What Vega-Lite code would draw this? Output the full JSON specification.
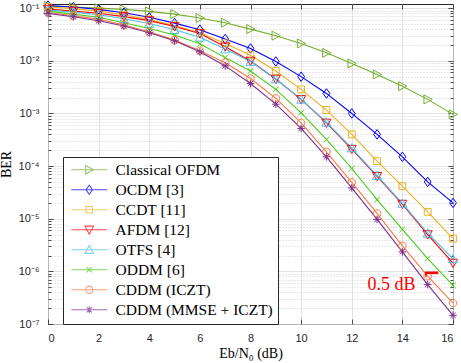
{
  "$schema": "https://vega.github.io/schema/vega-lite/v6.json",
  "width": 405,
  "height": 320,
  "autosize": {"type": "none"},
  "padding": {"left": 48, "top": 4, "right": 8, "bottom": 39},
  "background": "white",
  "config": {
    "view": {"stroke": "#262626", "strokeWidth": 1},
    "axis": {
      "labelFont": "Liberation Sans",
      "labelFontSize": 11,
      "labelColor": "#262626",
      "titleFont": "Liberation Serif",
      "titleFontWeight": "normal",
      "titleFontSize": 14,
      "titleColor": "#000000",
      "domain": false,
      "tickColor": "#262626",
      "tickWidth": 0.8
    },
    "legend": {
      "orient": "none",
      "legendX": 15,
      "legendY": 153,
      "strokeColor": "#262626",
      "fillColor": "white",
      "padding": 5,
      "labelFont": "Liberation Serif",
      "labelFontSize": 15.5,
      "labelColor": "#000000",
      "rowPadding": 3,
      "symbolSize": 81,
      "symbolStrokeWidth": 1.1,
      "symbolOffset": 13.5,
      "labelOffset": 18.5,
      "labelLimit": 0,
      "cornerRadius": 0
    }
  },
  "datasets": {
    "ber": [
      {"s": "Classical OFDM", "snr": 0, "ber": 0.11}, {"s": "Classical OFDM", "snr": 1, "ber": 0.105}, {"s": "Classical OFDM", "snr": 2, "ber": 0.1}, {"s": "Classical OFDM", "snr": 3, "ber": 0.095}, {"s": "Classical OFDM", "snr": 4, "ber": 0.087}, {"s": "Classical OFDM", "snr": 5, "ber": 0.077}, {"s": "Classical OFDM", "snr": 6, "ber": 0.065}, {"s": "Classical OFDM", "snr": 7, "ber": 0.053}, {"s": "Classical OFDM", "snr": 8, "ber": 0.04}, {"s": "Classical OFDM", "snr": 9, "ber": 0.03}, {"s": "Classical OFDM", "snr": 10, "ber": 0.0214}, {"s": "Classical OFDM", "snr": 11, "ber": 0.0142}, {"s": "Classical OFDM", "snr": 12, "ber": 0.0089}, {"s": "Classical OFDM", "snr": 13, "ber": 0.0055}, {"s": "Classical OFDM", "snr": 14, "ber": 0.0033}, {"s": "Classical OFDM", "snr": 15, "ber": 0.00185}, {"s": "Classical OFDM", "snr": 16, "ber": 0.00096},
      {"s": "OCDM [3]", "snr": 0, "ber": 0.112}, {"s": "OCDM [3]", "snr": 1, "ber": 0.105}, {"s": "OCDM [3]", "snr": 2, "ber": 0.095}, {"s": "OCDM [3]", "snr": 3, "ber": 0.082}, {"s": "OCDM [3]", "snr": 4, "ber": 0.067}, {"s": "OCDM [3]", "snr": 5, "ber": 0.052}, {"s": "OCDM [3]", "snr": 6, "ber": 0.039}, {"s": "OCDM [3]", "snr": 7, "ber": 0.026}, {"s": "OCDM [3]", "snr": 8, "ber": 0.0172}, {"s": "OCDM [3]", "snr": 9, "ber": 0.0097}, {"s": "OCDM [3]", "snr": 10, "ber": 0.005}, {"s": "OCDM [3]", "snr": 11, "ber": 0.0024}, {"s": "OCDM [3]", "snr": 12, "ber": 0.001}, {"s": "OCDM [3]", "snr": 13, "ber": 0.0004}, {"s": "OCDM [3]", "snr": 14, "ber": 0.00015}, {"s": "OCDM [3]", "snr": 15, "ber": 5.0e-5}, {"s": "OCDM [3]", "snr": 16, "ber": 2.0e-5},
      {"s": "CCDT [11]", "snr": 0, "ber": 0.105}, {"s": "CCDT [11]", "snr": 1, "ber": 0.098}, {"s": "CCDT [11]", "snr": 2, "ber": 0.088}, {"s": "CCDT [11]", "snr": 3, "ber": 0.075}, {"s": "CCDT [11]", "snr": 4, "ber": 0.061}, {"s": "CCDT [11]", "snr": 5, "ber": 0.047}, {"s": "CCDT [11]", "snr": 6, "ber": 0.034}, {"s": "CCDT [11]", "snr": 7, "ber": 0.0214}, {"s": "CCDT [11]", "snr": 8, "ber": 0.0128}, {"s": "CCDT [11]", "snr": 9, "ber": 0.0064}, {"s": "CCDT [11]", "snr": 10, "ber": 0.00286}, {"s": "CCDT [11]", "snr": 11, "ber": 0.00116}, {"s": "CCDT [11]", "snr": 12, "ber": 0.0004}, {"s": "CCDT [11]", "snr": 13, "ber": 0.000124}, {"s": "CCDT [11]", "snr": 14, "ber": 4.15e-5}, {"s": "CCDT [11]", "snr": 15, "ber": 1.35e-5}, {"s": "CCDT [11]", "snr": 16, "ber": 4.2e-6},
      {"s": "AFDM [12]", "snr": 0, "ber": 0.096}, {"s": "AFDM [12]", "snr": 1, "ber": 0.088}, {"s": "AFDM [12]", "snr": 2, "ber": 0.08}, {"s": "AFDM [12]", "snr": 3, "ber": 0.069}, {"s": "AFDM [12]", "snr": 4, "ber": 0.058}, {"s": "AFDM [12]", "snr": 5, "ber": 0.045}, {"s": "AFDM [12]", "snr": 6, "ber": 0.033}, {"s": "AFDM [12]", "snr": 7, "ber": 0.0185}, {"s": "AFDM [12]", "snr": 8, "ber": 0.0099}, {"s": "AFDM [12]", "snr": 9, "ber": 0.0045}, {"s": "AFDM [12]", "snr": 10, "ber": 0.00185}, {"s": "AFDM [12]", "snr": 11, "ber": 0.00066}, {"s": "AFDM [12]", "snr": 12, "ber": 0.00021}, {"s": "AFDM [12]", "snr": 13, "ber": 6.4e-5}, {"s": "AFDM [12]", "snr": 14, "ber": 1.9e-5}, {"s": "AFDM [12]", "snr": 15, "ber": 5.0e-6}, {"s": "AFDM [12]", "snr": 16, "ber": 1.44e-6},
      {"s": "OTFS [4]", "snr": 0, "ber": 0.092}, {"s": "OTFS [4]", "snr": 1, "ber": 0.084}, {"s": "OTFS [4]", "snr": 2, "ber": 0.075}, {"s": "OTFS [4]", "snr": 3, "ber": 0.063}, {"s": "OTFS [4]", "snr": 4, "ber": 0.051}, {"s": "OTFS [4]", "snr": 5, "ber": 0.039}, {"s": "OTFS [4]", "snr": 6, "ber": 0.028}, {"s": "OTFS [4]", "snr": 7, "ber": 0.0167}, {"s": "OTFS [4]", "snr": 8, "ber": 0.0097}, {"s": "OTFS [4]", "snr": 9, "ber": 0.0045}, {"s": "OTFS [4]", "snr": 10, "ber": 0.00185}, {"s": "OTFS [4]", "snr": 11, "ber": 0.00068}, {"s": "OTFS [4]", "snr": 12, "ber": 0.00022}, {"s": "OTFS [4]", "snr": 13, "ber": 6.6e-5}, {"s": "OTFS [4]", "snr": 14, "ber": 1.95e-5}, {"s": "OTFS [4]", "snr": 15, "ber": 5.3e-6}, {"s": "OTFS [4]", "snr": 16, "ber": 1.72e-6},
      {"s": "ODDM [6]", "snr": 0, "ber": 0.088}, {"s": "ODDM [6]", "snr": 1, "ber": 0.077}, {"s": "ODDM [6]", "snr": 2, "ber": 0.067}, {"s": "ODDM [6]", "snr": 3, "ber": 0.053}, {"s": "ODDM [6]", "snr": 4, "ber": 0.041}, {"s": "ODDM [6]", "snr": 5, "ber": 0.031}, {"s": "ODDM [6]", "snr": 6, "ber": 0.021}, {"s": "ODDM [6]", "snr": 7, "ber": 0.0115}, {"s": "ODDM [6]", "snr": 8, "ber": 0.0064}, {"s": "ODDM [6]", "snr": 9, "ber": 0.00286}, {"s": "ODDM [6]", "snr": 10, "ber": 0.00103}, {"s": "ODDM [6]", "snr": 11, "ber": 0.00032}, {"s": "ODDM [6]", "snr": 12, "ber": 9.0e-5}, {"s": "ODDM [6]", "snr": 13, "ber": 2.3e-5}, {"s": "ODDM [6]", "snr": 14, "ber": 6.3e-6}, {"s": "ODDM [6]", "snr": 15, "ber": 1.75e-6}, {"s": "ODDM [6]", "snr": 16, "ber": 5.4e-7},
      {"s": "CDDM (ICZT)", "snr": 0, "ber": 0.083}, {"s": "CDDM (ICZT)", "snr": 1, "ber": 0.072}, {"s": "CDDM (ICZT)", "snr": 2, "ber": 0.062}, {"s": "CDDM (ICZT)", "snr": 3, "ber": 0.048}, {"s": "CDDM (ICZT)", "snr": 4, "ber": 0.0356}, {"s": "CDDM (ICZT)", "snr": 5, "ber": 0.0247}, {"s": "CDDM (ICZT)", "snr": 6, "ber": 0.0155}, {"s": "CDDM (ICZT)", "snr": 7, "ber": 0.0092}, {"s": "CDDM (ICZT)", "snr": 8, "ber": 0.0046}, {"s": "CDDM (ICZT)", "snr": 9, "ber": 0.00193}, {"s": "CDDM (ICZT)", "snr": 10, "ber": 0.00066}, {"s": "CDDM (ICZT)", "snr": 11, "ber": 0.000186}, {"s": "CDDM (ICZT)", "snr": 12, "ber": 4.9e-5}, {"s": "CDDM (ICZT)", "snr": 13, "ber": 1.26e-5}, {"s": "CDDM (ICZT)", "snr": 14, "ber": 3.04e-6}, {"s": "CDDM (ICZT)", "snr": 15, "ber": 8.1e-7}, {"s": "CDDM (ICZT)", "snr": 16, "ber": 2.5e-7},
      {"s": "CDDM (MMSE + ICZT)", "snr": 0, "ber": 0.0796}, {"s": "CDDM (MMSE + ICZT)", "snr": 1, "ber": 0.0687}, {"s": "CDDM (MMSE + ICZT)", "snr": 2, "ber": 0.0576}, {"s": "CDDM (MMSE + ICZT)", "snr": 3, "ber": 0.0457}, {"s": "CDDM (MMSE + ICZT)", "snr": 4, "ber": 0.034}, {"s": "CDDM (MMSE + ICZT)", "snr": 5, "ber": 0.024}, {"s": "CDDM (MMSE + ICZT)", "snr": 6, "ber": 0.0148}, {"s": "CDDM (MMSE + ICZT)", "snr": 7, "ber": 0.008}, {"s": "CDDM (MMSE + ICZT)", "snr": 8, "ber": 0.0037}, {"s": "CDDM (MMSE + ICZT)", "snr": 9, "ber": 0.0015}, {"s": "CDDM (MMSE + ICZT)", "snr": 10, "ber": 0.00052}, {"s": "CDDM (MMSE + ICZT)", "snr": 11, "ber": 0.00015}, {"s": "CDDM (MMSE + ICZT)", "snr": 12, "ber": 3.86e-5}, {"s": "CDDM (MMSE + ICZT)", "snr": 13, "ber": 9.7e-6}, {"s": "CDDM (MMSE + ICZT)", "snr": 14, "ber": 2.34e-6}, {"s": "CDDM (MMSE + ICZT)", "snr": 15, "ber": 5.6e-7}, {"s": "CDDM (MMSE + ICZT)", "snr": 16, "ber": 1.46e-7}
    ],
    "gap": [{"a": 14.9, "b": 15.42, "ber": 9.4e-7}],
    "gapTick": [{"a": 14.93, "ber": 9.6e-7, "ber2": 7.9e-7}],
    "gapLabel": [{"a": 14.52, "ber": 4.4e-7, "t": "0.5 dB"}]
  },
  "layer": [
    {
      "data": {"name": "ber"},
      "mark": {"type": "line", "strokeWidth": 1.1},
      "encoding": {
        "x": {
          "field": "snr", "type": "quantitative",
          "scale": {"domain": [0, 16], "nice": false, "zero": false},
          "axis": {
            "values": [0, 2, 4, 6, 8, 10, 12, 14, 16],
            "title": "Eb/N₀ (dB)",
            "grid": true, "gridColor": "#dcdcdc", "gridWidth": 0.8,
            "tickSize": -5, "labelPadding": 13, "titlePadding": 3
          }
        },
        "y": {
          "field": "ber", "type": "quantitative",
          "scale": {"type": "log", "domain": [1e-7, 0.12], "nice": false},
          "axis": {
            "values": [1e-7, 2e-7, 3e-7, 4e-7, 5e-7, 6e-7, 7e-7, 8e-7, 9e-7, 1e-6, 2e-6, 3e-6, 4e-6, 5e-6, 6e-6, 7e-6, 8e-6, 9e-6, 1e-5, 2e-5, 3e-5, 4e-5, 5e-5, 6e-5, 7e-5, 8e-5, 9e-5, 0.0001, 0.0002, 0.0003, 0.0004, 0.0005, 0.0006, 0.0007, 0.0008, 0.0009, 0.001, 0.002, 0.003, 0.004, 0.005, 0.006, 0.007, 0.008, 0.009, 0.01, 0.02, 0.03, 0.04, 0.05, 0.06, 0.07, 0.08, 0.09, 0.1],
            "labelExpr": "datum.value == 0.1 ? '10⁻¹' : datum.value == 0.01 ? '10⁻²' : datum.value == 0.001 ? '10⁻³' : datum.value == 0.0001 ? '10⁻⁴' : datum.value == 1e-5 ? '10⁻⁵' : datum.value == 1e-6 ? '10⁻⁶' : datum.value == 1e-7 ? '10⁻⁷' : ''",
            "title": "BER",
            "grid": true,
            "gridColor": {"condition": {"test": "abs(log(datum.value)/LN10 - round(log(datum.value)/LN10)) < 0.001", "value": "#dcdcdc"}, "value": "#c4c4c4"},
            "gridDash": {"condition": {"test": "abs(log(datum.value)/LN10 - round(log(datum.value)/LN10)) < 0.001", "value": []}, "value": [1, 2]},
            "gridWidth": 0.8,
            "tickSize": {"condition": {"test": "abs(log(datum.value)/LN10 - round(log(datum.value)/LN10)) < 0.001", "value": -5}, "value": -3},
            "labelPadding": 14, "titlePadding": 5
          }
        },
        "color": {
          "field": "s", "type": "nominal",
          "scale": {
            "domain": ["Classical OFDM", "OCDM [3]", "CCDT [11]", "AFDM [12]", "OTFS [4]", "ODDM [6]", "CDDM (ICZT)", "CDDM (MMSE + ICZT)"],
            "range": ["#77AC30", "#0000FF", "#EDB120", "#FF0000", "#4DBEEE", "#4CCB1A", "#F77A45", "#7E2F8E"]
          },
          "legend": null
        }
      }
    },
    {
      "data": {"name": "ber"},
      "mark": {"type": "point", "filled": false, "size": 90, "strokeWidth": 1, "opacity": 1},
      "encoding": {
        "x": {
          "field": "snr", "type": "quantitative",
          "axis": {"orient": "top", "values": [0, 2, 4, 6, 8, 10, 12, 14, 16], "labels": false, "grid": false, "tickSize": -5, "title": null}
        },
        "y": {
          "field": "ber", "type": "quantitative",
          "axis": {
            "orient": "right",
            "values": [1e-7, 2e-7, 3e-7, 4e-7, 5e-7, 6e-7, 7e-7, 8e-7, 9e-7, 1e-6, 2e-6, 3e-6, 4e-6, 5e-6, 6e-6, 7e-6, 8e-6, 9e-6, 1e-5, 2e-5, 3e-5, 4e-5, 5e-5, 6e-5, 7e-5, 8e-5, 9e-5, 0.0001, 0.0002, 0.0003, 0.0004, 0.0005, 0.0006, 0.0007, 0.0008, 0.0009, 0.001, 0.002, 0.003, 0.004, 0.005, 0.006, 0.007, 0.008, 0.009, 0.01, 0.02, 0.03, 0.04, 0.05, 0.06, 0.07, 0.08, 0.09, 0.1],
            "labels": false, "grid": false, "title": null,
            "tickSize": {"condition": {"test": "abs(log(datum.value)/LN10 - round(log(datum.value)/LN10)) < 0.001", "value": -5}, "value": -3}
          }
        },
        "color": {
          "field": "s", "type": "nominal",
          "scale": {
            "domain": ["Classical OFDM", "OCDM [3]", "CCDT [11]", "AFDM [12]", "OTFS [4]", "ODDM [6]", "CDDM (ICZT)", "CDDM (MMSE + ICZT)"],
            "range": ["#77AC30", "#0000FF", "#EDB120", "#FF0000", "#4DBEEE", "#4CCB1A", "#F77A45", "#7E2F8E"]
          },
          "legend": null
        },
        "shape": {
          "field": "s", "type": "nominal",
          "scale": {
            "domain": ["Classical OFDM", "OCDM [3]", "CCDT [11]", "AFDM [12]", "OTFS [4]", "ODDM [6]", "CDDM (ICZT)", "CDDM (MMSE + ICZT)"],
            "range": [
              "M-0.8,-0.95L0.95,0L-0.8,0.95Z",
              "M0,-1L0.72,0L0,1L-0.72,0Z",
              "M-0.72,-0.72L0.72,-0.72L0.72,0.72L-0.72,0.72Z",
              "M-0.95,-0.8L0.95,-0.8L0,0.95Z",
              "M-0.95,0.8L0.95,0.8L0,-0.95Z",
              "M-0.6,-0.6L0.6,0.6M-0.6,0.6L0.6,-0.6",
              "M-0.8,0A0.8,0.8,0,1,0,0.8,0A0.8,0.8,0,1,0,-0.8,0Z",
              "M-0.8,0L0.8,0M0,-0.8L0,0.8M-0.57,-0.57L0.57,0.57M-0.57,0.57L0.57,-0.57"
            ]
          },
          "legend": null
        }
      }
    },
    {
      "data": {"name": "ber"},
      "transform": [{"filter": "datum.snr < 0"}],
      "mark": {"type": "point", "filled": false, "size": 81, "strokeWidth": 1.1},
      "encoding": {
        "x": {"field": "snr", "type": "quantitative", "axis": null},
        "y": {"field": "ber", "type": "quantitative", "axis": null},
        "color": {
          "field": "s", "type": "nominal",
          "scale": {
            "domain": ["Classical OFDM", "OCDM [3]", "CCDT [11]", "AFDM [12]", "OTFS [4]", "ODDM [6]", "CDDM (ICZT)", "CDDM (MMSE + ICZT)"],
            "range": ["#77AC30", "#0000FF", "#EDB120", "#FF0000", "#4DBEEE", "#4CCB1A", "#F77A45", "#7E2F8E"]
          },
          "legend": {"title": null}
        },
        "shape": {
          "field": "s", "type": "nominal",
          "scale": {
            "domain": ["Classical OFDM", "OCDM [3]", "CCDT [11]", "AFDM [12]", "OTFS [4]", "ODDM [6]", "CDDM (ICZT)", "CDDM (MMSE + ICZT)"],
            "range": [
              "M-4,0L4,0M-0.8,-0.95L0.95,0L-0.8,0.95Z",
              "M-4,0L4,0M0,-1L0.72,0L0,1L-0.72,0Z",
              "M-4,0L4,0M-0.72,-0.72L0.72,-0.72L0.72,0.72L-0.72,0.72Z",
              "M-4,0L4,0M-0.95,-0.8L0.95,-0.8L0,0.95Z",
              "M-4,0L4,0M-0.95,0.8L0.95,0.8L0,-0.95Z",
              "M-4,0L4,0M-0.6,-0.6L0.6,0.6M-0.6,0.6L0.6,-0.6",
              "M-4,0L4,0M-0.8,0A0.8,0.8,0,1,0,0.8,0A0.8,0.8,0,1,0,-0.8,0Z",
              "M-4,0L4,0M-0.8,0L0.8,0M0,-0.8L0,0.8M-0.57,-0.57L0.57,0.57M-0.57,0.57L0.57,-0.57"
            ]
          },
          "legend": {"title": null}
        }
      }
    },
    {
      "data": {"name": "gap"},
      "mark": {"type": "rule", "color": "#FF0000", "strokeWidth": 2.6},
      "encoding": {
        "x": {"field": "a", "type": "quantitative", "axis": null},
        "x2": {"field": "b"},
        "y": {"field": "ber", "type": "quantitative", "axis": null}
      }
    },
    {
      "data": {"name": "gapTick"},
      "mark": {"type": "rule", "color": "#FF0000", "strokeWidth": 1.5},
      "encoding": {
        "x": {"field": "a", "type": "quantitative", "axis": null},
        "y": {"field": "ber", "type": "quantitative", "axis": null},
        "y2": {"field": "ber2"}
      }
    },
    {
      "data": {"name": "gapLabel"},
      "mark": {"type": "text", "color": "#FF0000", "font": "Liberation Serif", "fontSize": 18, "align": "right", "baseline": "alphabetic"},
      "encoding": {
        "x": {"field": "a", "type": "quantitative", "axis": null},
        "y": {"field": "ber", "type": "quantitative", "axis": null},
        "text": {"field": "t"}
      }
    }
  ],
  "resolve": {
    "scale": {"color": "independent", "shape": "independent"},
    "axis": {"x": "independent", "y": "independent"}
  }
}
